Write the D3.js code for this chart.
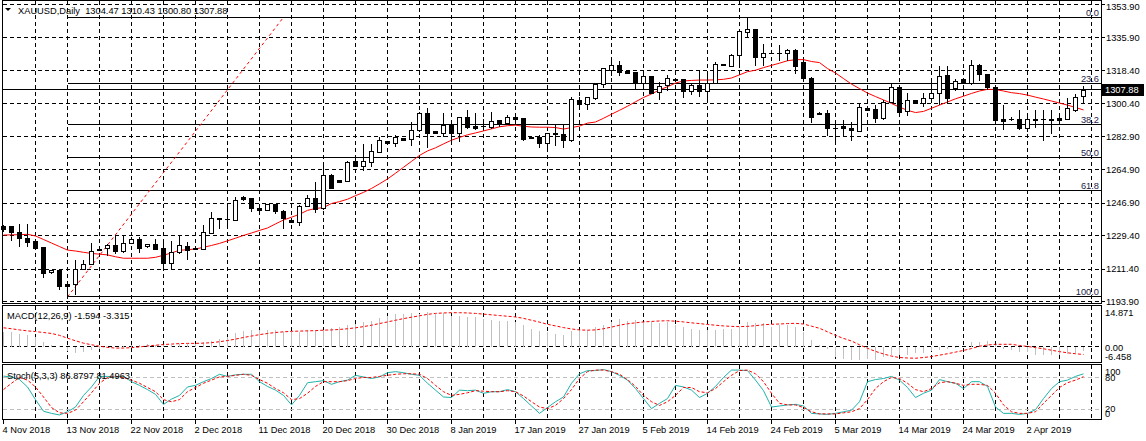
<!DOCTYPE html>
<html><head><meta charset="utf-8">
<script src="https://cdn.jsdelivr.net/npm/d3@7"></script>
<style>
html,body{margin:0;padding:0;background:#fff;overflow:hidden;}
svg{display:block;font-family:"Liberation Sans",Arial,sans-serif;font-size:9.3px;}
</style></head><body>
<svg id="c" width="1146" height="441"></svg>
<script>
// ---------------- DATA ----------------
const symbolTitle = "XAUUSD,Daily";
const lastOHLC = ["1304.47", "1310.43", "1300.80", "1307.88"];
const dateLabels = ["4 Nov 2018","13 Nov 2018","22 Nov 2018","2 Dec 2018","11 Dec 2018","20 Dec 2018",
  "30 Dec 2018","8 Jan 2019","17 Jan 2019","27 Jan 2019","5 Feb 2019","14 Feb 2019","24 Feb 2019",
  "5 Mar 2019","14 Mar 2019","24 Mar 2019","2 Apr 2019"];
const priceTicks = [1353.90,1335.90,1318.40,1300.40,1282.90,1264.90,1246.90,1229.40,1211.40,1193.90];
const macdTicks = [14.871, 0.00, -6.458];
const macdTickLabels = ["14.871", "0.00", "-6.458"];
const stochTicks = [100, 80, 20, 0];
const stochLevels = [80, 20];
const fibLevels = [0, 23.6, 38.2, 50.0, 61.8, 100.0];
const fibLabels = ["0.0", "23.6", "38.2", "50.0", "61.8", "100.0"];
const fibHigh = 1347.0, fibLow = 1196.4, fibStartBar = 8, fibEndBar = 35;

const opens = [1234.6,1234.6,1231.2,1228.3,1226.5,1223.1,1209.6,1210.9,1203.2,1203.2,
1211.2,1213.9,1222.4,1222.6,1224.3,1221.3,1225.6,1227.4,1223.6,1224.7,
1222.6,1214.5,1220.8,1224.0,1222.5,1222.0,1231.0,1238.7,1238.6,1237.8,
1250.4,1249.5,1244.5,1243.2,1246.3,1242.7,1237.8,1236.6,1245.5,1249.8,
1244.1,1262.1,1259.4,1259.0,1269.6,1266.9,1269.2,1274.6,1280.4,1279.5,
1281.8,1281.3,1286.3,1295.6,1285.8,1284.5,1289.4,1284.9,1293.5,1288.4,
1288.2,1288.1,1291.7,1289.9,1293.1,1292.8,1282.7,1282.7,1279.5,1284.9,
1284.1,1280.9,1302.5,1300.1,1303.7,1310.9,1318.6,1321.1,1318.1,1317.4,
1311.8,1315.4,1306.9,1310.6,1313.3,1313.6,1307.5,1310.6,1307.5,1311.8,
1321.6,1321.0,1326.5,1339.3,1340.5,1325.8,1327.9,1327.7,1327.6,1329.4,
1323.0,1314.1,1295.2,1295.3,1287.5,1288.5,1287.4,1285.9,1298.0,1297.4,
1292.6,1301.6,1309.3,1296.7,1302.5,1300.7,1303.4,1306.1,1315.9,1308.8,
1313.6,1311.4,1321.3,1316.5,1309.3,1292.2,1292.2,1292.2,1287.2,1292.2,
1292.0,1292.2,1292.6,1292.0,1297.1,1304.47];
const highs = [1235.5,1235.1,1236.0,1236.0,1227.0,1223.4,1211.2,1211.2,1203.9,1216.6,
1216.3,1225.6,1222.8,1225.2,1229.7,1230.1,1228.8,1228.8,1225.2,1227.9,
1225.6,1226.5,1229.7,1226.1,1222.8,1235.5,1242.3,1238.8,1245.9,1250.4,
1250.9,1249.6,1244.6,1246.8,1246.8,1243.2,1238.0,1246.3,1251.3,1258.5,
1266.9,1263.0,1259.6,1270.1,1271.9,1279.1,1279.1,1282.7,1280.7,1284.1,
1282.3,1290.8,1296.2,1298.5,1286.0,1295.6,1289.9,1293.8,1297.1,1295.6,
1292.6,1296.2,1292.0,1294.9,1293.8,1292.9,1282.8,1283.6,1284.9,1289.9,
1289.9,1304.3,1304.3,1304.3,1312.0,1320.1,1323.7,1323.7,1318.3,1317.4,
1316.0,1315.4,1312.3,1316.0,1314.1,1314.1,1311.1,1318.1,1317.7,1323.1,
1321.9,1327.6,1340.2,1347.0,1341.1,1333.0,1328.5,1332.6,1330.3,1330.3,
1324.4,1315.0,1296.2,1297.1,1291.3,1291.7,1290.8,1300.7,1298.3,1299.8,
1302.5,1311.1,1310.0,1306.4,1302.6,1306.4,1313.2,1321.3,1321.3,1314.1,
1313.7,1324.4,1322.2,1316.8,1310.0,1299.8,1293.5,1297.1,1293.5,1297.1,
1297.1,1297.1,1293.5,1303.9,1306.1,1310.43];
const lows = [1231.5,1227.0,1223.4,1223.4,1221.7,1206.9,1209.1,1200.5,1196.3,1197.8,
1210.9,1213.6,1221.3,1218.9,1219.9,1220.2,1225.2,1220.2,1223.2,1221.7,
1211.8,1210.9,1219.9,1216.3,1221.7,1221.7,1230.6,1233.3,1235.1,1237.3,
1248.5,1242.3,1243.0,1242.7,1241.4,1233.0,1236.5,1235.1,1245.0,1241.8,
1243.2,1254.9,1258.3,1258.5,1266.5,1264.4,1266.5,1274.1,1279.2,1277.3,
1280.4,1278.2,1285.4,1276.9,1284.2,1282.7,1280.9,1280.0,1287.2,1286.3,
1286.3,1287.2,1288.1,1289.0,1290.8,1280.5,1282.0,1277.0,1276.4,1278.2,
1276.9,1280.0,1299.2,1297.1,1302.8,1309.3,1315.9,1315.9,1317.0,1308.2,
1310.6,1306.1,1302.5,1307.5,1312.3,1303.9,1305.2,1304.6,1302.5,1311.5,
1321.0,1320.4,1321.7,1336.6,1320.8,1321.3,1327.4,1324.0,1324.0,1316.8,
1313.6,1290.3,1294.9,1283.1,1279.5,1283.1,1280.9,1285.4,1296.9,1290.3,
1292.0,1301.0,1295.6,1294.0,1300.9,1298.9,1302.5,1299.8,1300.7,1307.5,
1311.7,1310.6,1313.2,1308.2,1289.5,1286.3,1291.3,1286.7,1285.4,1287.7,
1280.9,1284.5,1291.3,1291.7,1296.5,1300.80];
const closes = [1233.1,1231.2,1227.9,1226.1,1222.9,1209.4,1210.9,1202.4,1202.4,1211.4,
1214.1,1221.3,1221.7,1224.3,1221.3,1225.6,1227.4,1222.9,1224.7,1222.4,
1214.5,1220.8,1224.2,1221.7,1222.0,1231.2,1238.7,1238.2,1238.1,1248.6,
1248.9,1244.1,1243.2,1246.3,1242.7,1238.7,1236.9,1245.5,1249.8,1243.7,
1262.1,1255.2,1258.5,1269.1,1266.9,1269.6,1275.0,1280.7,1279.5,1282.7,
1280.9,1286.3,1295.3,1284.9,1284.5,1289.0,1284.9,1293.1,1288.1,1287.6,
1288.4,1291.3,1289.4,1293.1,1292.4,1281.3,1282.2,1279.5,1284.5,1284.0,
1280.9,1302.8,1300.1,1303.9,1311.1,1319.5,1321.1,1317.7,1317.2,1311.5,
1315.4,1306.4,1310.2,1314.2,1313.5,1307.5,1310.6,1307.5,1311.8,1321.9,
1321.5,1326.7,1339.6,1340.5,1325.8,1327.6,1328.0,1328.0,1329.4,1320.8,
1314.1,1293.5,1295.0,1287.2,1287.6,1287.2,1286.3,1298.5,1297.1,1292.6,
1301.6,1309.3,1296.2,1302.5,1301.0,1303.4,1306.1,1315.4,1303.4,1312.9,
1311.8,1321.3,1316.5,1309.3,1291.7,1291.3,1292.0,1287.2,1292.2,1291.5,
1292.1,1291.5,1291.7,1298.0,1304.3,1307.88];
const movingAvg = [1229.7,1229.8,1229.9,1230.1,1229.2,1227.3,1225.4,1223.5,1221.6,1221.1,
1220.4,1219.8,1219.4,1219.0,1218.0,1217.2,1217.2,1217.2,1217.2,1217.7,
1218.8,1220.1,1221.5,1221.8,1222.2,1223.1,1224.1,1225.2,1226.6,1228.0,
1229.5,1230.8,1232.2,1233.5,1235.7,1237.8,1239.3,1240.9,1243.0,1244.0,
1244.5,1246.7,1247.7,1249.0,1250.9,1252.7,1254.8,1257.3,1259.9,1263.0,
1266.2,1269.4,1272.6,1275.0,1276.7,1278.8,1280.8,1282.3,1283.7,1284.7,
1285.8,1286.9,1288.0,1288.6,1288.9,1288.3,1287.9,1287.8,1287.8,1287.6,
1286.8,1287.6,1288.4,1290.0,1290.6,1292.6,1294.8,1296.9,1299.1,1301.5,
1303.8,1305.7,1307.9,1309.6,1311.6,1312.7,1313.0,1313.2,1313.2,1313.3,
1313.6,1314.3,1316.0,1317.7,1318.5,1319.9,1321.1,1322.3,1323.6,1324.2,
1324.2,1323.2,1322.6,1319.4,1317.0,1314.0,1311.0,1308.6,1306.2,1304.3,
1302.5,1300.6,1298.6,1296.9,1295.7,1296.3,1298.0,1299.7,1301.4,1303.1,
1304.5,1306.0,1307.3,1308.2,1308.1,1307.3,1306.4,1305.9,1305.1,1304.0,
1303.0,1301.9,1300.8,1299.7,1298.4,1297.1];
const macdMain = [6.36,6.36,5.65,5.23,4.52,2.40,0.99,0.42,-1.70,-2.40,
-2.12,-1.41,-0.71,-0.14,0.14,0.42,0.71,1.13,1.27,0.99,
0.71,0.99,1.27,1.41,1.41,2.12,2.54,3.53,4.24,5.94,
6.78,7.07,7.35,7.35,7.07,6.64,6.36,6.36,7.07,7.07,
7.35,8.06,8.48,9.61,9.89,10.6,11.3,12.4,13.4,13.9,
14.1,14.4,14.1,14.871,14.1,14.4,13.4,13.4,13.0,12.7,
12.0,11.6,11.0,11.0,10.6,9.19,7.77,6.78,6.36,5.65,
4.95,6.78,7.35,7.07,8.48,9.19,10.6,12.0,11.0,11.6,
10.6,10.6,10.2,10.6,9.19,8.48,7.77,7.07,7.35,7.35,
7.77,7.77,8.48,10.6,10.2,10.2,8.76,9.61,9.19,8.48,
6.36,3.11,1.13,-0.71,-4.24,-4.95,-5.37,-5.65,-4.95,-5.37,
-4.24,-3.53,-3.11,-3.11,-2.54,-2.40,-1.70,-0.99,-0.71,-0.42,
0.05,2.12,2.12,2.54,0.71,-0.71,-1.13,-2.12,-2.12,-3.11,
-3.11,-3.53,-3.11,-2.83,-2.40,-1.594];
const macdSignal = [8.0,7.6,7.1,6.7,6.4,6.0,5.6,4.8,3.6,2.5,
1.5,0.8,0.2,-0.3,-0.6,-0.6,-0.4,-0.1,0.3,0.6,
0.9,1.1,1.3,1.4,1.4,1.5,1.7,2.1,2.6,3.2,
3.9,4.5,5.1,5.6,6.0,6.3,6.5,6.6,6.7,6.8,
7.0,7.1,7.3,7.6,8.0,8.5,9.1,9.8,10.5,11.2,
11.9,12.5,13.1,13.7,14.1,14.3,14.4,14.4,14.3,14.1,
13.8,13.5,13.2,12.9,12.6,12.0,11.2,10.4,9.5,8.8,
8.1,7.5,7.1,7.0,7.1,7.6,8.3,9.1,9.7,10.1,
10.5,10.7,10.9,11.0,10.8,10.5,10.1,9.8,9.4,9.1,
8.8,8.6,8.5,8.6,8.9,9.3,9.5,9.6,9.8,9.9,
9.6,8.7,7.8,6.3,4.8,3.5,2.4,0.8,-0.7,-2.0,
-3.1,-4.0,-4.6,-4.8,-4.9,-4.6,-4.2,-3.6,-3.0,-2.3,
-1.6,-0.8,0.2,0.7,1.0,1.0,1.0,0.5,0.1,-0.4,
-0.9,-1.5,-2.1,-2.6,-3.0,-3.315];
const stochMain = [82.5,81,76,62,38,16,12,9,15,24,
46,62,82,82,81,82,72,65,57,48,
29,39,46,62,65,72,78,86,82,85,
86,86,72,63,56,46,28,46,70,72,
74,67,72,75,84,81,78,81,89,91,
89,86,84,69,56,43,42,56,55,56,
50,53,53,57,53,40,26,12,23,34,
43,69,87,93,93,95,91,84,75,59,
40,21,31,40,65,62,56,42,50,63,
80,94,94,93,75,55,24,26,28,29,
26,12,11,10,12,15,18,34,72,76,
78,82,75,61,42,50,56,76,72,69,
59,72,72,63,24,12,12,10,12,19,
40,59,72,75,82,86.8797];
const stochSignal = [57,69,80,75,62,43,23,13,12,18,
34,51,69,80,82,80,75,69,61,53,
38,34,38,53,61,69,75,81,82,84,
86,84,76,69,59,51,38,40,50,63,
72,72,72,74,78,80,80,82,84,86,
87,87,86,78,65,53,46,48,51,55,
54,53,53,55,53,45,34,24,21,27,
40,57,78,91,94,94,91,86,76,63,
46,34,27,34,46,61,61,53,51,59,
72,84,93,94,87,72,50,31,28,28,
23,15,11,11,11,13,15,21,38,59,
72,80,78,69,57,53,59,70,72,69,
65,67,67,65,50,28,15,12,12,15,
31,46,61,70,75,81.4963];

// ---------------- LAYOUT ----------------
const svg = d3.select("#c");
const L = 2.5, R = 1101.5;
const main = {top: 0.5, bottom: 303.5};
const macdP = {top: 305.5, bottom: 362.5};
const stochP = {top: 364.5, bottom: 419.5};
const nBars = closes.length;
const x = d3.scaleLinear().domain([0, nBars - 1]).range([3.5, 3.5 + 8 * (nBars - 1)]);
const yP = d3.scaleLinear().domain([1193.9, 1353.9]).range([301.5, 4.5]);
const yM = d3.scaleLinear().domain([-6.458, 14.871]).range([361.9, 311.6]);
const yS = d3.scaleLinear().domain([0, 100]).range([419.7, 366.9]);
const px = v => Math.round(v - 0.5) + 0.5;
const GRID_DASH = "4,3";

svg.append("rect").attr("width", 1146).attr("height", 441).attr("fill", "#fff");

// vertical grid in all panels
const vgrid = d3.range(4, 1092 / 8).filter(i => (i % 4) === 0).map(i => 3.5 + 8 * i).filter(v => v < R);
[main, macdP, stochP].forEach(p => {
  svg.append("g").selectAll("line").data(vgrid).join("line")
    .attr("x1", d => d).attr("x2", d => d).attr("y1", p.top).attr("y2", p.bottom)
    .attr("stroke", "#000").attr("stroke-dasharray", GRID_DASH).attr("shape-rendering", "crispEdges");
});
// horizontal grid main
svg.append("g").selectAll("line").data(priceTicks).join("line")
  .attr("x1", L).attr("x2", R).attr("y1", d => px(yP(d))).attr("y2", d => px(yP(d)))
  .attr("stroke", "#000").attr("stroke-dasharray", GRID_DASH).attr("shape-rendering", "crispEdges");
// MACD zero line
svg.append("line").attr("x1", L).attr("x2", R).attr("y1", px(yM(0))).attr("y2", px(yM(0)))
  .attr("stroke", "#000").attr("stroke-dasharray", GRID_DASH).attr("shape-rendering", "crispEdges");
// Stoch levels
svg.append("g").selectAll("line").data(stochLevels).join("line")
  .attr("x1", L).attr("x2", R).attr("y1", d => px(yS(d))).attr("y2", d => px(yS(d)))
  .attr("stroke", "#c0c0c0").attr("stroke-dasharray", "4,3").attr("shape-rendering", "crispEdges");

// Fibonacci
const fibPrice = l => fibHigh - (fibHigh - fibLow) * l / 100;
svg.append("g").selectAll("line").data(fibLevels).join("line")
  .attr("x1", x(fibStartBar)).attr("x2", R)
  .attr("y1", d => px(yP(fibPrice(d)))).attr("y2", d => px(yP(fibPrice(d))))
  .attr("stroke", "#000").attr("shape-rendering", "crispEdges");
svg.append("g").selectAll("text").data(fibLevels).join("text")
  .attr("x", 1099).attr("y", d => px(yP(fibPrice(d))) - 1.5).attr("text-anchor", "end")
  .attr("fill", "#1c1c48").text((d, i) => fibLabels[i]);
svg.append("line").attr("x1", x(fibStartBar)).attr("y1", yP(fibLow))
  .attr("x2", x(fibEndBar)).attr("y2", yP(fibHigh))
  .attr("stroke", "#ff0000").attr("stroke-dasharray", "3,3");

// Bid line
svg.append("line").attr("x1", L).attr("x2", R)
  .attr("y1", px(yP(closes[nBars - 1]))).attr("y2", px(yP(closes[nBars - 1])))
  .attr("stroke", "#000").attr("shape-rendering", "crispEdges");

// Moving average
svg.append("path").datum(movingAvg)
  .attr("d", d3.line().x((d, i) => x(i)).y(d => yP(d)))
  .attr("fill", "none").attr("stroke", "#ff0000").attr("stroke-width", 1);

// Candles
const cg = svg.append("g").attr("shape-rendering", "crispEdges");
d3.range(nBars).forEach(i => {
  const cx = x(i), o = opens[i], h = highs[i], l = lows[i], c = closes[i];
  const yh = px(yP(h)), yl = px(yP(l));
  cg.append("line").attr("x1", cx).attr("x2", cx).attr("y1", yh).attr("y2", yl).attr("stroke", "#000");
  const yt = Math.round(yP(Math.max(o, c))), yb = Math.round(yP(Math.min(o, c)));
  if (yb - yt < 1) {
    cg.append("line").attr("x1", cx - 2.5).attr("x2", cx + 2.5).attr("y1", yt + 0.5).attr("y2", yt + 0.5).attr("stroke", "#000");
  } else {
    cg.append("rect").attr("x", cx - 2).attr("y", yt + 0.5).attr("width", 4).attr("height", yb - yt)
      .attr("fill", c >= o ? "#fff" : "#000").attr("stroke", "#000");
  }
});

// MACD histogram + signal
svg.append("g").attr("shape-rendering", "crispEdges").selectAll("line").data(macdMain).join("line")
  .attr("x1", (d, i) => x(i)).attr("x2", (d, i) => x(i))
  .attr("y1", px(yM(0))).attr("y2", d => px(yM(d)))
  .attr("stroke", "#c0c0c0");
svg.append("path").datum(macdSignal)
  .attr("d", d3.line().x((d, i) => x(i)).y(d => yM(d)))
  .attr("fill", "none").attr("stroke", "#ff0000").attr("stroke-dasharray", "3,2");

// Stochastic
svg.append("path").datum(stochMain)
  .attr("d", d3.line().x((d, i) => x(i)).y(d => yS(d)))
  .attr("fill", "none").attr("stroke", "#20b2aa");
svg.append("path").datum(stochSignal)
  .attr("d", d3.line().x((d, i) => x(i)).y(d => yS(d)))
  .attr("fill", "none").attr("stroke", "#ff0000").attr("stroke-dasharray", "3,2");

// Panel borders
[main, macdP, stochP].forEach(p => {
  svg.append("rect").attr("x", L).attr("y", p.top).attr("width", R - L).attr("height", p.bottom - p.top)
    .attr("fill", "none").attr("stroke", "#000").attr("shape-rendering", "crispEdges");
});

// Right price axis
const clampY = (y, p, lo, hi) => Math.max(p.top + lo, Math.min(p.bottom - hi, y));
svg.append("g").selectAll("line").data(priceTicks).join("line")
  .attr("x1", R).attr("x2", R + 3.5).attr("y1", d => px(yP(d))).attr("y2", d => px(yP(d)))
  .attr("stroke", "#000").attr("shape-rendering", "crispEdges");
svg.append("g").selectAll("text").data(priceTicks).join("text")
  .attr("x", 1106).attr("y", d => Math.max(7, yP(d)) + 3.3)
  .attr("fill", "#000").text(d => d.toFixed(2));

// last price box
const yl = yP(closes[nBars - 1]);
svg.append("rect").attr("x", 1102).attr("y", Math.round(yl) - 6).attr("width", 42).attr("height", 12).attr("fill", "#000");
svg.append("text").attr("x", 1105).attr("y", yl + 3.3).attr("fill", "#fff").text(lastOHLC[3]);

// MACD axis
svg.append("g").selectAll("text").data(macdTicks).join("text")
  .attr("x", 1105).attr("y", d => clampY(yM(d) + 1.3, macdP, 7.5, 6) + 3.3)
  .attr("fill", "#000").text((d, i) => macdTickLabels[i]);
// Stoch axis (labels overlap pairwise in the original as well)
svg.append("g").selectAll("text").data(stochTicks).join("text")
  .attr("x", 1105).attr("y", d => clampY(yS(d), stochP, 7.2, 6.2) + 3.3)
  .attr("fill", "#000").text(d => d);

// date labels
svg.append("g").selectAll("text").data(dateLabels).join("text")
  .attr("x", (d, i) => x(i * 8) - 1).attr("y", 433)
  .attr("fill", "#000").text(d => d);
svg.append("g").selectAll("line").data(dateLabels).join("line")
  .attr("x1", (d, i) => x(i * 8)).attr("x2", (d, i) => x(i * 8))
  .attr("y1", stochP.bottom).attr("y2", stochP.bottom + 4)
  .attr("stroke", "#000").attr("shape-rendering", "crispEdges");

// headers
svg.append("path").attr("d", "M5,8 L11,8 L8,11 Z").attr("fill", "#000");
svg.append("text").attr("x", 18).attr("y", 14).attr("fill", "#000").style("white-space", "pre")
  .text(symbolTitle + "  " + lastOHLC.join(" "));
svg.append("text").attr("x", 7).attr("y", 319).attr("fill", "#000")
  .text("MACD(12,26,9) " + macdMain[nBars - 1].toFixed(3) + " " + macdSignal[nBars - 1].toFixed(3));
svg.append("text").attr("x", 7).attr("y", 378.5).attr("fill", "#000")
  .text("Stoch(5,3,3) " + stochMain[nBars - 1].toFixed(4) + " " + stochSignal[nBars - 1].toFixed(4));
</script></body></html>
